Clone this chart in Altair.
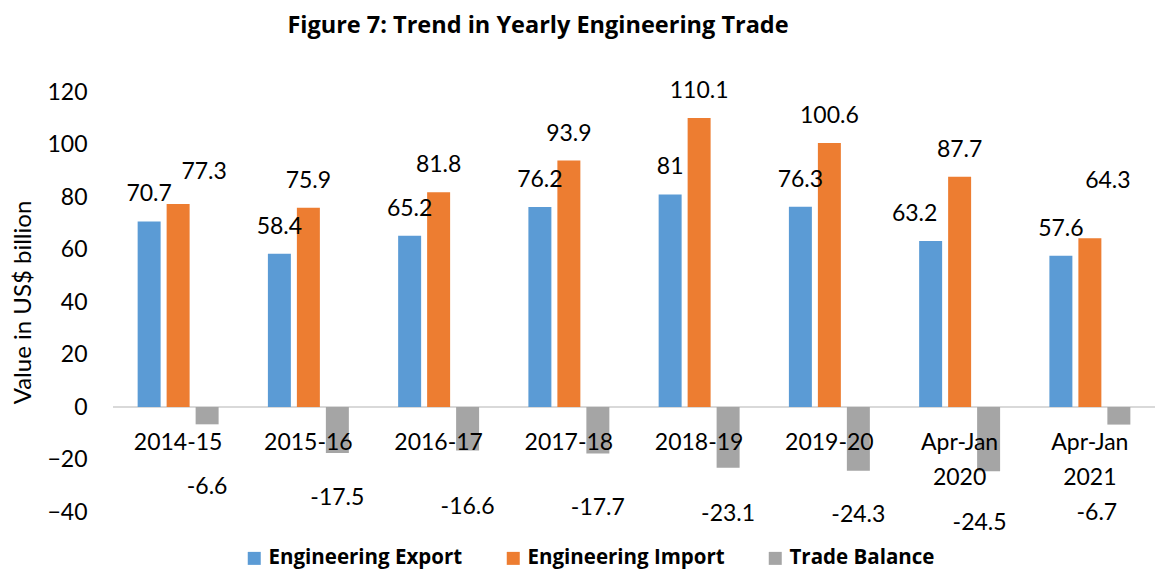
import altair as alt
import pandas as pd

categories = ["2014-15", "2015-16", "2016-17", "2017-18", "2018-19", "2019-20",
              "Apr-Jan 2020", "Apr-Jan 2021"]
export_vals = [70.7, 58.4, 65.2, 76.2, 81, 76.3, 63.2, 57.6]
import_vals = [77.3, 75.9, 81.8, 93.9, 110.1, 100.6, 87.7, 64.3]
balance_vals = [-6.6, -17.5, -16.6, -17.7, -23.1, -24.3, -24.5, -6.7]
series = ["Engineering Export", "Engineering Import", "Trade Balance"]
colors = ["#5B9BD5", "#ED7D31", "#A5A5A5"]
y_ticks = [-40, -20, 0, 20, 40, 60, 80, 100, 120]

rows = []
for i, c in enumerate(categories):
    for s, vals in zip(series, [export_vals, import_vals, balance_vals]):
        rows.append({"category": c, "series": s, "value": vals[i], "label": f"{vals[i]:g}"})
df = pd.DataFrame(rows)
cat_df = pd.DataFrame({"category": categories})

FONT = "Lato"
BOLD_FONT = "Open Sans"

x_enc = alt.X("category:N", sort=categories, axis=None,
              scale=alt.Scale(paddingInner=0, paddingOuter=0))
xo_enc = alt.XOffset("series:N", sort=series,
                     scale=alt.Scale(paddingInner=0.207, paddingOuter=0.85))
y_scale = alt.Scale(domain=[-40, 120], nice=False, zero=False)

rule = alt.Chart(df).mark_rule(color="#D9D9D9", strokeWidth=2).encode(y=alt.datum(0))

bars = alt.Chart(df).mark_bar().encode(
    x=x_enc,
    xOffset=xo_enc,
    y=alt.Y("value:Q", scale=y_scale,
            axis=alt.Axis(values=y_ticks, title="Value in US$ billion", grid=False,
                          domain=False, ticks=False, tickSize=0, labelPadding=26,
                          labelFont=FONT, labelFontSize=23, labelColor="black",
                          titleFont=FONT, titleFontSize=24, titleFontWeight="normal",
                          titleColor="black", titlePadding=11)),
    color=alt.Color("series:N", sort=series,
                    scale=alt.Scale(domain=series, range=colors),
                    legend=alt.Legend(orient="none", direction="horizontal", columns=3,
                                      legendX=131, legendY=456, title=None,
                                      symbolType="square", symbolSize=169,
                                      symbolStrokeWidth=0, labelFont=BOLD_FONT,
                                      labelFontSize=20.5, labelFontWeight="bold",
                                      labelColor="black", columnPadding=40,
                                      labelOffset=4, padding=0, labelLimit=400)),
)

# Data labels: default placement, with a few labels nudged as in the original figure
moved = [
    ("2014-15", "Engineering Import", 26, -32),
    ("Apr-Jan 2020", "Engineering Export", -16, -27),
    ("Apr-Jan 2021", "Engineering Import", 18, -57),
    ("2014-15", "Trade Balance", 0, -10),
    ("2015-16", "Trade Balance", 0, -10),
    ("Apr-Jan 2020", "Trade Balance", -9, 8),
    ("Apr-Jan 2021", "Trade Balance", -22, 16),
]


def sel(c, s):
    return f"(datum.category == '{c}' && datum.series == '{s}')"


not_moved = " && ".join(f"!{sel(c, s)}" for c, s, _, _ in moved)

label_base = alt.Chart(df).transform_calculate(
    label_y="datum.value >= 0 ? datum.value : datum.value * 0.4 - 31.5"
)


def label_layer(filter_expr, dx, dy_pos, dy_neg):
    base = label_base.transform_filter(filter_expr)
    pos = base.transform_filter("datum.value >= 0").mark_text(
        font=FONT, fontSize=23, color="black", baseline="middle", dx=dx, dy=dy_pos
    ).encode(x=x_enc, xOffset=xo_enc, y=alt.Y("label_y:Q", scale=y_scale), text="label:N")
    neg = base.transform_filter("datum.value < 0").mark_text(
        font=FONT, fontSize=23, color="black", baseline="middle", dx=dx, dy=dy_neg
    ).encode(x=x_enc, xOffset=xo_enc, y=alt.Y("label_y:Q", scale=y_scale), text="label:N")
    return [pos, neg]


label_layers = label_layer(not_moved, 0, -27, 0)
for c, s, dx, dy in moved:
    label_layers += label_layer(sel(c, s), dx, dy, dy)

cat_labels = alt.Chart(cat_df).mark_text(
    font=FONT, fontSize=23, color="black", baseline="alphabetic", dy=43,
    lineBreak=" ", lineHeight=35
).encode(x=x_enc, y=alt.datum(0), text="category:N")

chart = alt.layer(rule, bars, *label_layers, cat_labels).properties(
    width=1042, height=420,
    title=alt.TitleParams("Figure 7: Trend in Yearly Engineering Trade", font=BOLD_FONT,
                          fontSize=23.5, fontWeight="bold", color="black",
                          anchor="middle", dx=-96, offset=42),
    autosize=alt.AutoSizeParams(type="none"),
    padding={"left": 105, "top": 84, "right": 0, "bottom": 58},
    background="white",
).configure_view(stroke=None)

chart.save("out.html", embed_options={"renderer": "svg", "actions": False})
